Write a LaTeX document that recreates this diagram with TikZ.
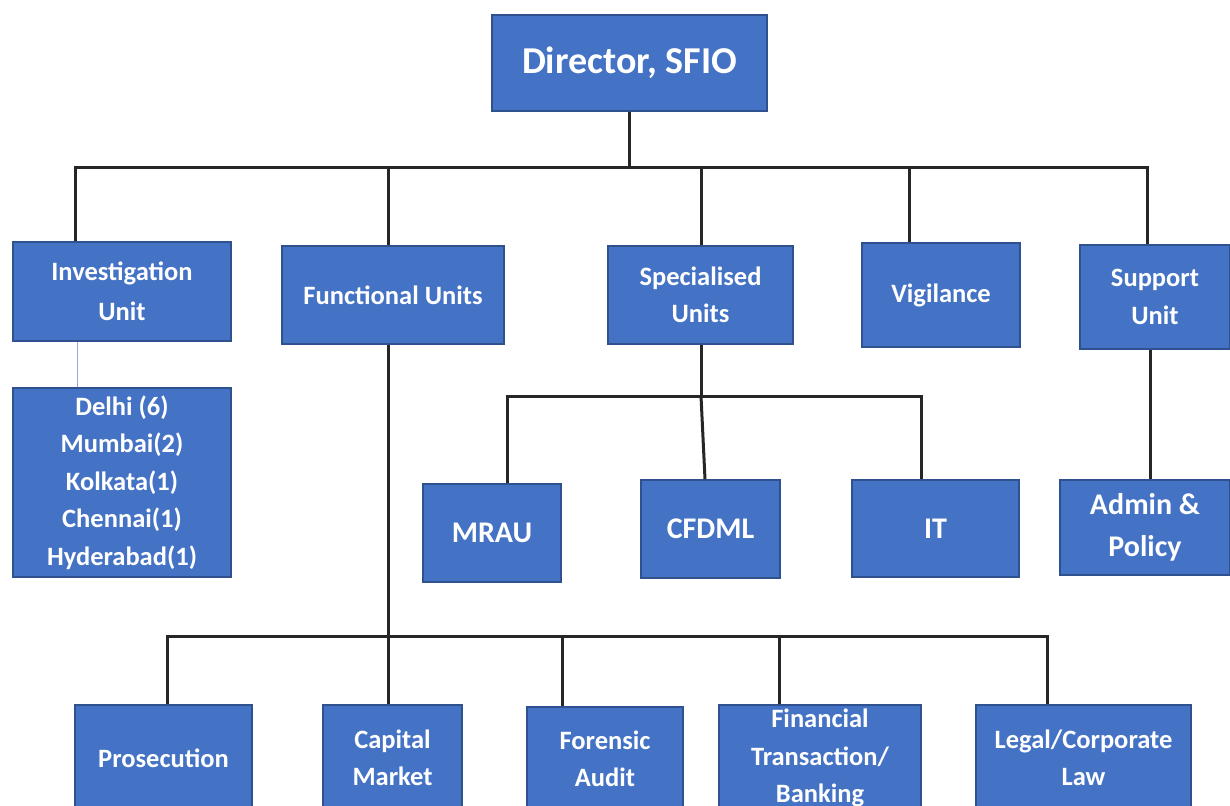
\documentclass[tikz,border=0pt]{standalone}
\usepackage{fontspec}
\setmainfont{Carlito}
\usepackage{tikz}
\usetikzlibrary{positioning, calc}
\definecolor{boxblue}{HTML}{4472C4}
\definecolor{boxline}{HTML}{2F528F}
\definecolor{linkgray}{HTML}{262626}
\definecolor{thinblue}{HTML}{8FAADC}
\tikzstyle{unit}=[%
      rectangle, draw=boxline, line width=1.5pt, fill=boxblue, text=white,
      font=\bfseries\fontsize{26.5}{37.5}\selectfont, align=center, inner sep=0pt
]
\tikzstyle{head}=[unit, font=\bfseries\fontsize{38}{44}\selectfont]
\tikzstyle{big}=[unit, font=\bfseries\fontsize{30}{42}\selectfont]
\tikzstyle{sub}=[unit, font=\bfseries\fontsize{26.5}{37.5}\selectfont]
\tikzstyle{link}=[draw=linkgray, line width=3pt]

\begin{document}
\begin{tikzpicture}[x=1pt, y=-1pt]
    \useasboundingbox (0,0) rectangle (1230,805);
    \clip (0,0) rectangle (1230,805);

    % top level
    \node[head, minimum width=275pt, minimum height=96pt] (dir) at (629.5,63) {Director, SFIO};

    % second level
    \node[unit, minimum width=218pt, minimum height=99pt, font=\bfseries\fontsize{26.5}{40}\selectfont]
        (inv)  at (122,291.5) {Investigation\\Unit};
    \node[unit, minimum width=222pt, minimum height=98pt]  (func) at (393,295)   {Functional Units};
    \node[unit, minimum width=185pt, minimum height=98pt]  (spec) at (700.5,295) {Specialised\\Units};
    \node[unit, minimum width=158pt, minimum height=104pt] (vig)  at (941,295)   {Vigilance};
    \node[unit, minimum width=150pt, minimum height=104pt] (sup)  at (1155,297)  {Support\\Unit};

    % third level
    \node[unit, minimum width=218pt, minimum height=189pt] (city) at (122,482.5)
        {Delhi (6)\\Mumbai(2)\\Kolkata(1)\\Chennai(1)\\Hyderabad(1)};
    \node[big, minimum width=138pt, minimum height=98pt] (mrau)  at (492,533)     {MRAU};
    \node[big, minimum width=139pt, minimum height=98pt] (cfdml) at (710.5,529)   {CFDML};
    \node[big, minimum width=167pt, minimum height=97pt] (it)    at (935.5,528.5) {IT};
    \node[big, minimum width=170pt, minimum height=95pt] (admin) at (1145,527.5)  {Admin \&\\Policy};

    % functional units
    \node[sub, minimum width=177pt, minimum height=106pt] (pros)  at (163.5,758)  {Prosecution};
    \node[sub, minimum width=139pt, minimum height=106pt] (cap)   at (392.5,758)  {Capital\\Market};
    \node[sub, minimum width=156pt, minimum height=104pt] (fore)  at (605,759)    {Forensic\\Audit};
    \node[sub, minimum width=202pt, minimum height=106pt] (fin)   at (820,758)    {Financial\\Transaction/\\Banking};
    \node[sub, minimum width=215pt, minimum height=106pt] (legal) at (1083.5,758) {Legal/Corporate\\Law};

    % buses
    \coordinate (tb) at (629.5,168);
    \coordinate (sb) at (701,396);
    \coordinate (fb) at (388,636);

    \draw[link] (dir.south) -- (tb);
    \draw[link] (tb) -| ([xshift=-47pt]inv.north);
    \draw[link] (tb) -| ([xshift=-5pt]func.north);
    \draw[link] (tb) -| ([xshift=0.5pt]spec.north);
    \draw[link] (tb) -| ([xshift=-32pt]vig.north);
    \draw[link] (tb) -| ([xshift=-8pt]sup.north);

    \draw[thinblue, line width=1pt] ([xshift=-45pt]inv.south) -- ([xshift=-45pt]city.north);

    \draw[link] ([xshift=0.5pt]spec.south) -- (sb);
    \draw[link] (sb) -| ([xshift=15pt]mrau.north);
    \draw[link] (sb) -- ([xshift=-5.5pt]cfdml.north);
    \draw[link] (sb) -| ([xshift=-14.5pt]it.north);

    \draw[link] ([xshift=-5pt]sup.south) -- ([xshift=5pt]admin.north);

    \draw[link] ([xshift=-5pt]func.south) -- ([xshift=-4.5pt]cap.north);
    \draw[link] (fb) -| ([xshift=3.5pt]pros.north);
    \draw[link] (fb) -| ([xshift=-43pt]fore.north);
    \draw[link] (fb) -| ([xshift=-41pt]fin.north);
    \draw[link] (fb) -| ([xshift=-36.5pt]legal.north);
\end{tikzpicture}
\end{document}
